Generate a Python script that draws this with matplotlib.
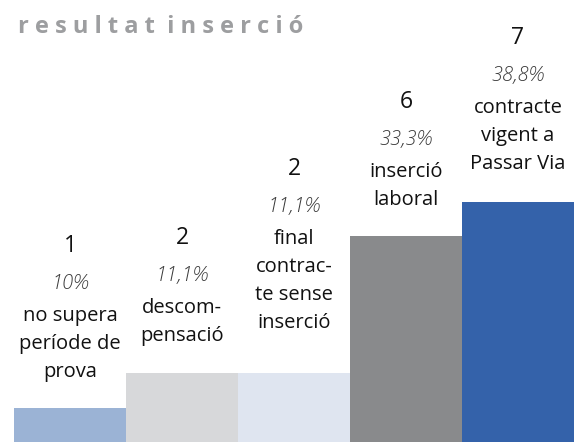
import matplotlib
matplotlib.use('Agg')
import matplotlib.pyplot as plt

# dades
counts = [1, 2, 2, 6, 7]
percents = ['10%', '11,1%', '11,1%', '33,3%', '38,8%']
labels = ['no supera\nperíode de\nprova',
          'descom-\npensació',
          'final\ncontrac-\nte sense\ninserció',
          'inserció\nlaboral',
          'contracte\nvigent a\nPassar Via']
title = 'resultat inserció'

colors = ['#9bb3d5', '#d7d8da', '#dfe5f0', '#898a8c', '#3462aa']
gaps = [36, 37, 50, 36, 38]   # distancia (px) barra -> ultima linia

plt.rcParams['font.family'] = ['Open Sans', 'DejaVu Sans']

W, H = 574, 442
fig = plt.figure(figsize=(W / 100, H / 100), dpi=100)
ax = fig.add_axes([14 / W, 0, 560 / W, 1])

x = list(range(len(counts)))
ax.bar(x, counts, width=1.0, color=colors, align='center')
ax.set_xlim(-0.5, len(counts) - 0.5)
ax.set_ylim(0, H / 34.3)
ax.axis('off')

line_h = 28
for i, c in enumerate(counts):
    lines = labels[i].split('\n')
    off = gaps[i]
    # descripcio, de baix a dalt
    for ln in reversed(lines):
        ax.annotate(ln, (i, c), xytext=(0, off), textcoords='offset pixels',
                    ha='center', va='center', fontsize=14.5, color='#111111',
                    fontweight='medium')
        off += line_h
    off += 32 - line_h
    ax.annotate(percents[i], (i, c), xytext=(0, off), textcoords='offset pixels',
                ha='center', va='center', fontsize=14.5, style='italic',
                color='#3a3a3a', fontweight='light')
    off += 38
    ax.annotate(str(c), (i, c), xytext=(0, off), textcoords='offset pixels',
                ha='center', va='center', fontsize=16.5, color='#111111',
                fontweight='medium')

spaced = '  '.join(' '.join(w) for w in title.split())
fig.text(18 / W, 1 - 27 / H, spaced, ha='left', va='center', fontsize=17,
         fontweight='bold', color='#9d9ea0')

fig.savefig('out.png', dpi=100)
